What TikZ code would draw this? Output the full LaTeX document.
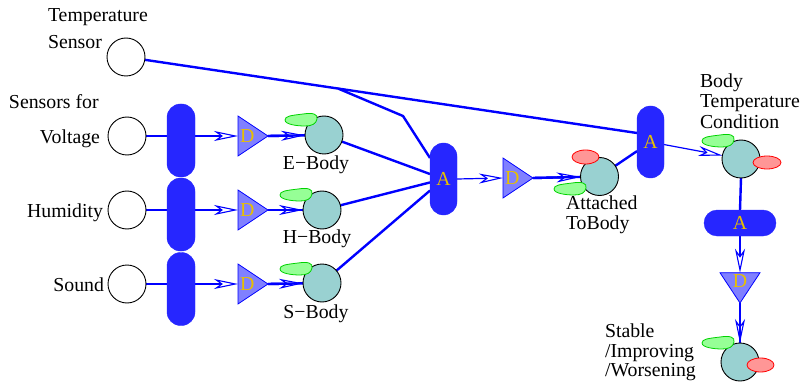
\documentclass[tikz,border=0pt]{standalone}
\usepackage{fontspec}
\setmainfont{Liberation Serif}
\usetikzlibrary{shapes.geometric,arrows.meta,backgrounds,calc}

\definecolor{linkblue}{RGB}{0,0,255}
\definecolor{pillblue}{RGB}{38,38,255}
\definecolor{trifill}{RGB}{128,128,255}
\definecolor{gold}{RGB}{232,192,0}
\definecolor{bodyfill}{RGB}{153,209,209}
\definecolor{leaffill}{RGB}{150,255,150}
\definecolor{leafline}{RGB}{0,210,0}
\definecolor{redfill}{RGB}{255,150,150}
\definecolor{redline}{RGB}{255,0,0}

\tikzset{
  every node/.style={font=\fontsize{19.8}{22}\selectfont, inner sep=0pt, outer sep=0pt},
  lbl/.style={text=black},
  sensor/.style={circle, draw=black, line width=0.9pt, fill=white, minimum size=38pt},
  body/.style={circle, draw=black, line width=0.9pt, fill=bodyfill, minimum size=38pt},
  vpill/.style={rectangle, rounded corners=13.5pt, fill=pillblue, draw=pillblue,
    minimum width=27pt, minimum height=72pt, text=gold},
  hpill/.style={rectangle, rounded corners=13pt, fill=pillblue, draw=pillblue,
    minimum width=72pt, minimum height=26pt, text=gold},
  dtri/.style={isosceles triangle, isosceles triangle stretches, fill=trifill,
    draw=linkblue, line width=0.8pt, minimum width=40pt, minimum height=26pt, text=gold},
  redblob/.style={ellipse, fill=redfill, draw=redline, line width=0.8pt,
    minimum width=27pt, minimum height=14pt},
  hollow/.tip={Stealth[open, length=24pt, width=10pt, inset=7pt, line width=1.1pt]},
  thinlink/.style={draw=linkblue, line width=1.2pt, -hollow},
  thicklink/.style={draw=linkblue, line width=2.4pt},
  leaf/.pic={
    \draw[draw=leafline, fill=leaffill, line width=0.8pt]
      (0,7) .. controls (0,3) and (6,2.5) .. (18,1)
      .. controls (28,-0.5) and (33,1) .. (32,6)
      .. controls (31,11) and (27,13) .. (20,13)
      .. controls (12,13) and (0,11.5) .. (0,7) -- cycle;
  }
}

\begin{document}
\begin{tikzpicture}[x=1pt, y=-1pt]
\useasboundingbox (0,0) rectangle (805,382);

% sensors
\node[sensor] (Ts)  at (126,57)  {};
\node[sensor] (Vs)  at (127,136) {};
\node[sensor] (Hs)  at (127,210) {};
\node[sensor] (Ss)  at (127,284) {};

% sensor labels
\node[lbl, anchor=base west] (tsA) at (48,22) {Temperature};
\node[lbl, anchor=base west] (tsB) at (48,49) {Sensor};
\node[lbl, anchor=base west] (sfor) at (9,109) {Sensors for};
\node[lbl, anchor=base east] (vlbl) at (100,144) {Voltage};
\node[lbl, anchor=base east] (hlbl) at (103,217) {Humidity};
\node[lbl, anchor=base east] (slbl) at (104,291) {Sound};

% pills after the sensors
\node[vpill, minimum width=28pt, minimum height=73pt] (P1) at (181,140.5) {};
\node[vpill, minimum width=28pt, minimum height=73pt] (P2) at (181,214.5) {};
\node[vpill, minimum width=28pt, minimum height=73pt] (P3) at (181,289) {};

% D stages
\node[dtri, anchor=apex] (D1) at (268,136) {D};
\node[dtri, anchor=apex] (D2) at (268,210) {D};
\node[dtri, anchor=apex] (D3) at (268,284) {D};

% body nodes
\node[body] (Eb) at (324,135) {};
\node[body] (Hb) at (322,210) {};
\node[body] (Sb) at (322,283) {};
\node[lbl, anchor=base] (elbl) at (316,170) {E−Body};
\node[lbl, anchor=base] (hlbl2) at (317,243) {H−Body};
\node[lbl, anchor=base] (slbl2) at (316,318) {S−Body};

% aggregation and the attached-to-body stage
\node[vpill] (A1) at (443.5,179) {A};
\node[dtri, anchor=apex] (D4) at (533,178) {D};
\node[body] (Att) at (599.5,176.5) {};
\node[lbl, anchor=base west] (attA) at (566,209) {Attached};
\node[lbl, anchor=base west] (attB) at (566,229) {ToBody};

% body temperature condition
\node[vpill] (A2) at (650.5,142) {A};
\node[body] (Btc) at (741,159) {};
\node[lbl, anchor=base west] (btA) at (700,88) {Body};
\node[lbl, anchor=base west] (btB) at (700,108) {Temperature};
\node[lbl, anchor=base west] (btC) at (700,129) {Condition};

% final state
\node[hpill] (A3) at (740,223) {A};
\node[dtri, anchor=apex, shape border rotate=270] (D5) at (740,303) {D};
\node[body] (Fin) at (740,362) {};
\node[lbl, anchor=base west] (fnA) at (605,337) {Stable};
\node[lbl, anchor=base west] (fnB) at (605,357) {/Improving};
\node[lbl, anchor=base west] (fnC) at (605,376) {/Worsening};

% decorations on the body nodes
\pic at (285,113) {leaf};
\pic at (280,188) {leaf};
\pic at (280,262) {leaf};
\pic at (554,182) {leaf};
\pic at (702,134) {leaf};
\pic at (702,336) {leaf};
\node[redblob] (AttR) at (585.5,157) {};
\node[redblob, minimum width=28pt, minimum height=13pt] (BtcR) at (767,162.5) {};
\node[redblob] (FinR) at (760.5,365) {};

% connectors
\begin{scope}[on background layer]
  \coordinate (tgt) at ([yshift=9pt]A2.west);
  \coordinate (tbr) at ($(Ts.center)!0.415!(tgt)$);
  \coordinate (tkink) at (403,116);
  \draw[thicklink] (Ts) -- (tgt);
  \draw[thicklink] (tbr) -- (tkink) -- (A1);

  \draw[thicklink] (Vs.east) -- (Vs.east -| P1.east);
  \draw[thicklink] (Hs.east) -- (Hs.east -| P2.east);
  \draw[thicklink] (Ss.east) -- (Ss.east -| P3.east);
  \draw[thinlink] (Vs.east -| P1.east) -- (D1.west);
  \draw[thinlink] (Hs.east -| P2.east) -- (D2.west);
  \draw[thinlink] (Ss.east -| P3.east) -- (D3.west);

  \foreach \d/\b in {D1/Eb, D2/Hb, D3/Sb, D4/Att}{
    \draw[thicklink, -hollow] (\d.apex) -- (\b);
    \draw[thicklink] (\d.apex) -- (\b);
  }
  \draw[thicklink] (Eb) -- (A1);
  \draw[thicklink] (Hb) -- (A1);
  \draw[thicklink] (Sb) -- (A1);
  \draw[thinlink] (A1.east) -- (D4.west);
  \draw[thicklink] (Att) -- (A2);
  \draw[thinlink] (A2) -- (Btc);
  \draw[thicklink] (Btc.south) -- (A3.north);
  \draw[thinlink] (A3.south) -- (D5.north);
  \draw[thicklink, -hollow] (D5.apex) -- (Fin.north);
  \draw[thicklink] (D5.apex) -- (Fin.north);
\end{scope}
\end{tikzpicture}
\end{document}
